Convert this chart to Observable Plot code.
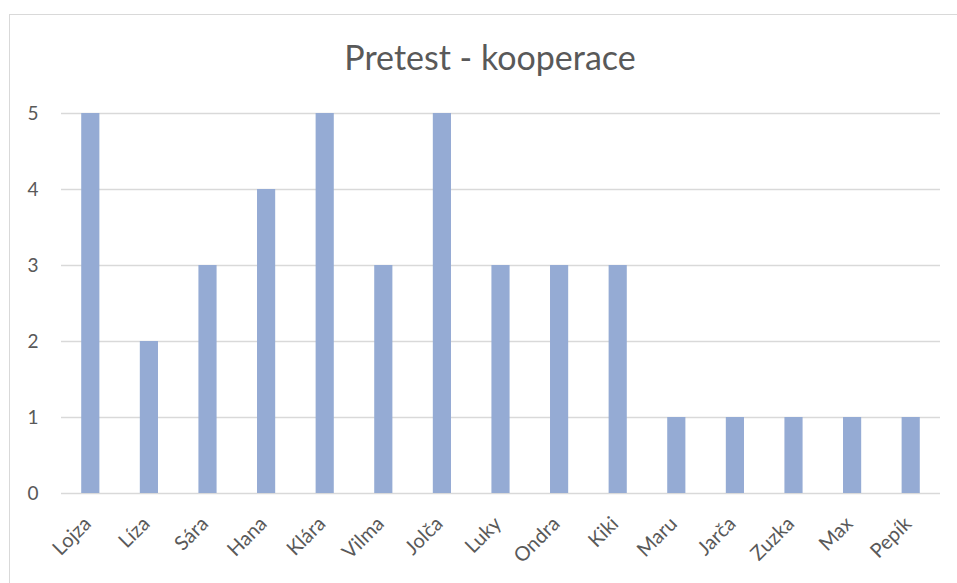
<!DOCTYPE html>
<html>
<head>
<meta charset="utf-8">
<script src="https://cdn.jsdelivr.net/npm/d3@7"></script>
<script src="https://cdn.jsdelivr.net/npm/@observablehq/plot@0.6"></script>
<style>
  html, body { margin: 0; padding: 0; background: #fff; width: 957px; height: 583px; overflow: hidden; }
  #frame { position: absolute; left: 9px; top: 14px; width: 980px; height: 600px; border-left: 1.5px solid #d9d9d9; border-top: 1.5px solid #d9d9d9; box-sizing: border-box; }
  #title { position: absolute; left: 0; top: 0; width: 980px; text-align: center; font-family: Lato, "Open Sans", sans-serif; font-size: 34px; color: #595959; line-height: 1; padding-top: 40px; }
  #chart { position: absolute; left: 0; top: 95px; }
</style>
</head>
<body>
<div id="frame"></div>
<div id="title">Pretest - kooperace</div>
<div id="chart"></div>
<script>
const names = ["Lojza", "Líza", "Sára", "Hana", "Klára", "Vilma", "Jolča", "Luky", "Ondra", "Kiki", "Maru", "Jarča", "Zuzka", "Max", "Pepík"];
const values = [5, 2, 3, 4, 5, 3, 5, 3, 3, 3, 1, 1, 1, 1, 1];
const yTicks = [0, 1, 2, 3, 4, 5];

const data = names.map((n, i) => ({name: n, value: values[i]}));

const chart = Plot.plot({
  width: 957,
  height: 488,
  marginTop: 18,
  marginBottom: 90,
  marginLeft: 61,
  marginRight: 17,
  style: {fontFamily: "Lato, 'Open Sans', sans-serif", fontSize: "19px", color: "#595959", background: "transparent"},
  x: {domain: names, paddingInner: 0.69, paddingOuter: 0.345, align: 0.5, round: false, label: null},
  y: {domain: [0, 5], ticks: yTicks, label: null},
  marks: [
    Plot.gridY(yTicks, {stroke: "#d9d9d9", strokeOpacity: 1, strokeWidth: 1.3}),
    Plot.barY(data, {x: "name", y: "value", fill: "#95abd4"}),
    Plot.axisY(yTicks, {tickSize: 0, tickPadding: 23, fontSize: 19, fill: "#595959", tickFormat: d3.format("d"), label: null}),
    Plot.axisX({tickSize: 0, tickRotate: -45, tickPadding: 27, dx: -3, fontSize: 20, fill: "#595959", label: null})
  ]
});
document.getElementById("chart").appendChild(chart);
</script>
</body>
</html>
